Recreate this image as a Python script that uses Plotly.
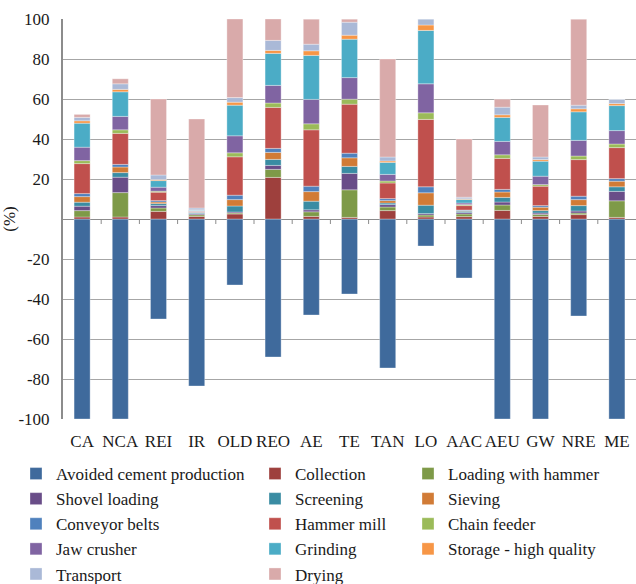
import plotly.graph_objects as go

# Scenario codes along the category axis
categories = ["CA", "NCA", "REI", "IR", "OLD", "REO", "AE", "TE", "TAN", "LO",
              "AAC", "AEU", "GW", "NRE", "ME"]

# Contribution of each process (%) per scenario
avoided_cement = [-100, -100, -50, -83.5, -33, -69, -48, -37.5, -74.5, -13.5, -29.5, -100, -100, -48.5, -100]
collection = [1, 1, 3.8, 1.3, 2.5, 20.8, 1.3, 0.8, 4.2, 1, 1.2, 4.3, 1.3, 2.2, 0.8]
loading_hammer = [3.2, 12.2, 1.7, 0.8, 0.5, 4, 2.3, 13.8, 1.8, 1, 1.3, 2.7, 1, 0.8, 8.3]
shovel_loading = [2.2, 7.7, 1.2, 0.5, 0.5, 2, 1, 8.2, 1.2, 0.7, 0.7, 1.5, 0.7, 1, 4.7]
screening = [2, 2.3, 1, 0.4, 3, 3, 4.3, 3.5, 0.8, 4.2, 0.7, 2.3, 1.2, 2.7, 2.3]
sieving = [2.8, 2.8, 0.8, 0.2, 3.2, 3.5, 4.8, 4.3, 1.2, 6.2, 0.3, 2.7, 1.7, 3, 2.8]
conveyor_belts = [1.5, 1.3, 0.7, 0.2, 2.2, 2, 2.7, 2.3, 1, 3, 0.3, 1.3, 0.8, 1.7, 1.3]
hammer_mill = [15, 15.5, 4.2, 0.4, 19.2, 20.5, 28.2, 24.5, 7.8, 33.7, 2.2, 15.5, 9.7, 18.3, 15.5]
chain_feeder = [1.5, 1.8, 0.5, 0.1, 2, 2.2, 3, 2.5, 1, 3.3, 0.5, 1.8, 0.8, 1.8, 1.8]
jaw_crusher = [6.7, 6.7, 2, 0.3, 8.5, 8.8, 12.2, 10.8, 3.3, 14.5, 0.8, 6.7, 4.2, 7.8, 6.7]
grinding = [12, 12.3, 3.3, 0.3, 15.3, 16, 22, 19.2, 6, 26.7, 1.8, 12, 7.5, 14.3, 12.5]
storage_hq = [1.2, 1.2, 0.5, 0.1, 1.5, 1.5, 2.3, 2, 0.7, 2.7, 0.3, 1.3, 0.8, 1.5, 1]
transport = [1.7, 2.8, 2.3, 0.9, 2.3, 5, 3.3, 6.5, 2, 3.0, 0.8, 3.8, 1.3, 1.8, 2.2]
drying = [1.5, 2.5, 38, 44.5, 39.3, 10.7, 12.5, 1.5, 49, 0, 29.1, 4, 26, 43, 0]

series = [
    ("Avoided cement production", avoided_cement, "#3F6A9C"),
    ("Collection", collection, "#9E403D"),
    ("Loading with hammer", loading_hammer, "#7E9A48"),
    ("Shovel loading", shovel_loading, "#694D88"),
    ("Screening", screening, "#3A8CA3"),
    ("Sieving", sieving, "#D17B36"),
    ("Conveyor belts", conveyor_belts, "#4F81BD"),
    ("Hammer mill", hammer_mill, "#C0504D"),
    ("Chain feeder", chain_feeder, "#9BBB59"),
    ("Jaw crusher", jaw_crusher, "#8064A2"),
    ("Grinding", grinding, "#4BACC6"),
    ("Storage - high quality", storage_hq, "#F79646"),
    ("Transport", transport, "#AAB9D7"),
    ("Drying", drying, "#D9AAAA"),
]

FONT = "Liberation Serif, Times New Roman, serif"
legend_ids = ["legend", "legend2", "legend3"]
positions = list(range(len(categories)))

fig = go.Figure()
for i, (name, vals, color) in enumerate(series):
    fig.add_trace(go.Bar(
        name=name, x=positions, y=vals,
        marker=dict(color=color, line=dict(color="rgba(255,255,255,0.55)", width=0.6)),
        legend=legend_ids[i % 3],
    ))

# Small tick marks on the zero line between categories
shapes = []
for i in range(len(categories) - 1):
    shapes.append(dict(type="line", xref="x", yref="y", x0=i + 0.5, x1=i + 0.5,
                       y0=0, y1=-2.5, line=dict(color="#8C8C8C", width=1)))

W, H = 636, 584
ML, MR, MT, MB = 63, 0, 19, 165
plot_w, plot_h = W - ML - MR, H - MT - MB


def px_x(px):
    return (px - ML) / plot_w


def px_y(py):
    return (H - MB - py) / plot_h


legend_common = dict(
    orientation="v", traceorder="normal", xref="paper", yref="paper",
    xanchor="left", yanchor="top", bgcolor="rgba(0,0,0,0)",
    font=dict(family=FONT, size=17, color="#1a1a1a"),
)
legend_top = px_y(456)

fig.update_layout(
    width=W, height=H,
    margin=dict(l=ML, r=MR, t=MT, b=MB, autoexpand=False),
    paper_bgcolor="white", plot_bgcolor="white",
    barmode="relative", bargap=0.58,
    font=dict(family=FONT, size=17, color="#1a1a1a"),
    shapes=shapes,
    legend=dict(x=px_x(16), y=legend_top, **legend_common),
    legend2=dict(x=px_x(255), y=legend_top, **legend_common),
    legend3=dict(x=px_x(408), y=legend_top, **legend_common),
    xaxis=dict(
        range=[-0.5, len(categories) - 0.5],
        tickvals=positions, ticktext=categories, tickangle=0,
        showgrid=False, showline=False, zeroline=False, ticks="",
        ticklabelstandoff=10, tickfont=dict(family=FONT, size=17, color="#1a1a1a"),
    ),
    yaxis=dict(
        range=[-100, 100],
        tickvals=[100, 80, 60, 40, 20, 0, -20, -40, -60, -80, -100],
        ticktext=["100", "80", "60", "40", "20", "", "-20", "-40", "-60", "-80", "-100"],
        showgrid=True, gridcolor="#A6A6A6", gridwidth=1.4,
        zeroline=True, zerolinecolor="#8C8C8C", zerolinewidth=1.4,
        showline=True, linecolor="#8C8C8C", linewidth=2,
        ticks="", ticklabelstandoff=8,
        tickfont=dict(family=FONT, size=17, color="#1a1a1a"),
        title=dict(text="(%)", standoff=1, font=dict(family=FONT, size=17, color="#1a1a1a")),
    ),
)

fig.write_html("out.html")
